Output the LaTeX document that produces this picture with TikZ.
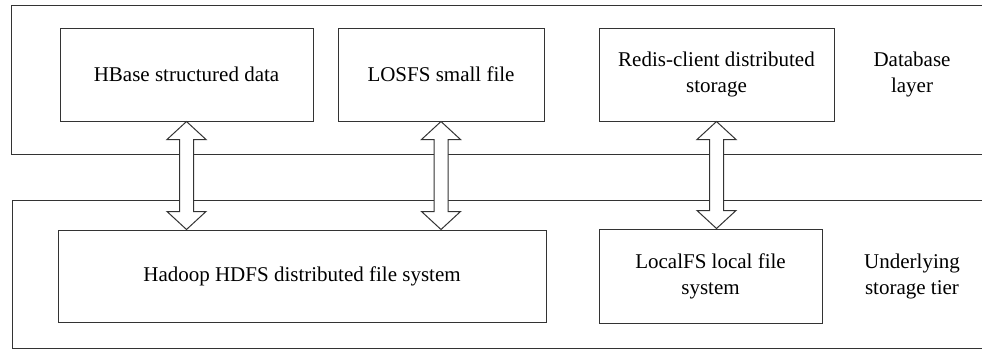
\documentclass[tikz,border=0pt]{standalone}
\usepackage{fontspec}
\setmainfont{Liberation Serif}
\begin{document}
\begin{tikzpicture}[x=1pt,y=-1pt,
  ln/.style={draw=black!80,line width=1pt},
  box/.style={ln,fill=white,inner sep=0pt,align=center,font=\fontsize{21}{26}\selectfont},
  lbl/.style={align=center,font=\fontsize{21}{26}\selectfont},
  arr/.style={ln,fill=white,line join=miter}]
\useasboundingbox (0,0) rectangle (982,349);
% layer frames (open to the right)
\draw[ln] (982,5) -- (11,5) -- (11,154) -- (982,154);
\draw[ln] (982,200) -- (12,200) -- (12,348) -- (982,348);
% boxes
\node[box,minimum width=253pt,minimum height=93pt] (hbase) at (186.5,74.5) {HBase structured data};
\node[box,minimum width=206pt,minimum height=93pt] (losfs) at (441,74.5) {LOSFS small file};
\node[box,minimum width=235pt,minimum height=93pt] (redis) at (716.5,74.5) {Redis-client distributed\\storage};
\node[box,minimum width=488pt,minimum height=92pt] (hdfs) at (302,276) {Hadoop HDFS distributed file system};
\node[box,minimum width=223pt,minimum height=94pt] (local) at (710.5,276) {LocalFS local file\\system};
\node[lbl] (dbl) at (912,74) {Database\\layer};
\node[lbl] (ust) at (912,276) {Underlying\\storage tier};
% double arrows
\newcommand\dblarr[3]{%
  \coordinate (t) at (#1.south);
  \coordinate (b) at (#1.south |- #2.north);
  \draw[arr] (t) -- ([xshift=19.5pt,yshift=-18pt]t) -- ([xshift=7pt,yshift=-18pt]t)
    -- ([xshift=7pt,yshift=18pt]b) -- ([xshift=19.5pt,yshift=18pt]b) -- (b)
    -- ([xshift=-19.5pt,yshift=18pt]b) -- ([xshift=-7pt,yshift=18pt]b)
    -- ([xshift=-7pt,yshift=-18pt]t) -- ([xshift=-19.5pt,yshift=-18pt]t) -- cycle;}
\dblarr{hbase}{hdfs}{}
\dblarr{losfs}{hdfs}{}
\dblarr{redis}{local}{}
\end{tikzpicture}
\end{document}
